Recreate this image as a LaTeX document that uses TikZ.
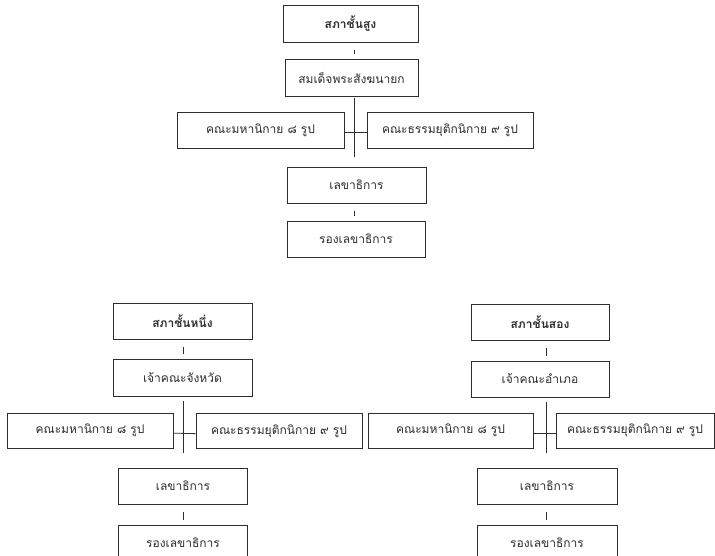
\documentclass[tikz,border=0pt]{standalone}
\usepackage{fontspec}
\newfontfamily\thaifont[Script=Thai]{Loma}
\usetikzlibrary{positioning, calc}
\tikzset{>=stealth}
\definecolor{inkgray}{RGB}{45,45,45}
\tikzset{
  unitbox/.style={draw=inkgray, line width=0.7pt, inner sep=0pt, text=inkgray,
    minimum height=27pt, font=\thaifont\small},
  councilbox/.style={unitbox, font=\thaifont\small\bfseries},
  gapline/.style={draw=inkgray, line width=0.6pt, shorten <=5.5pt, shorten >=3.5pt},
  spineline/.style={draw=inkgray, line width=0.6pt}
}

\begin{document}
\begin{tikzpicture}[x=0.75pt, y=-0.75pt]

	\fill [white] (0,0) rectangle (715,556);
	\clip (0,0) rectangle (715,556);

	% supreme council
	\node [councilbox, minimum width=101.25pt, minimum height=27.75pt] (top) at (350.5,23.5) {สภาชั้นสูง};
	\node [unitbox, minimum width=99.75pt, minimum height=27.75pt] (pres) at (351.5,77.5) {สมเด็จพระสังฆนายก};
	\node [unitbox, minimum width=125.25pt] (maha1) at (260.5,130) {คณะมหานิกาย ๘ รูป};
	\node [unitbox, minimum width=124.5pt] (tham1) at (450,130) {คณะธรรมยุติกนิกาย ๙ รูป};
	\node [unitbox, minimum width=104.25pt] (sec1) at (356.5,185) {เลขาธิการ};
	\node [unitbox, minimum width=103.5pt] (dep1) at (356,239) {รองเลขาธิการ};
	\coordinate (axis1) at (354,0);

	\draw [gapline] (top.south -| axis1) -- (pres.north -| axis1);
	\draw [spineline, shorten <=1.5pt, shorten >=7.5pt] (pres.south -| axis1) -- (sec1.north -| axis1);
	\draw [spineline] ([yshift=-2pt]maha1.east) -- ([yshift=-2pt]tham1.west);
	\draw [gapline] (sec1.south -| axis1) -- (dep1.north -| axis1);

	% first-level council
	\node [councilbox, minimum width=104.25pt] (prov) at (182.5,321) {สภาชั้นหนึ่ง};
	\node [unitbox, minimum width=104.25pt, minimum height=27.75pt] (provhead) at (182.5,377.5) {เจ้าคณะจังหวัด};
	\node [unitbox, minimum width=124.5pt, minimum height=26.25pt] (maha2) at (90,430.5) {คณะมหานิกาย ๘ รูป};
	\node [unitbox, minimum width=124.5pt, minimum height=26.25pt] (tham2) at (279,431) {คณะธรรมยุติกนิกาย ๙ รูป};
	\node [unitbox, minimum width=96.75pt] (sec2) at (183,486) {เลขาธิการ};
	\node [unitbox, minimum width=96.75pt] (dep2) at (183,543) {รองเลขาธิการ};
	\coordinate (axis2) at (183.5,0);

	\draw [gapline] (prov.south -| axis2) -- (provhead.north -| axis2);
	\draw [spineline, shorten <=3.75pt, shorten >=11.25pt] (provhead.south -| axis2) -- (sec2.north -| axis2);
	\draw [spineline] ([yshift=-2pt]maha2.east) -- ([yshift=-2pt]tham2.west);
	\draw [gapline] (sec2.south -| axis2) -- (dep2.north -| axis2);

	% second-level council
	\node [councilbox, minimum width=103.5pt] (dist) at (540,322) {สภาชั้นสอง};
	\node [unitbox, minimum width=103.5pt] (disthead) at (540,379) {เจ้าคณะอำเภอ};
	\node [unitbox, minimum width=123.75pt, minimum height=26.25pt] (maha3) at (450.5,430.5) {คณะมหานิกาย ๘ รูป};
	\node [unitbox, minimum width=118.5pt, minimum height=26.25pt] (tham3) at (635,430.5) {คณะธรรมยุติกนิกาย ๙ รูป};
	\node [unitbox, minimum width=105pt] (sec3) at (547,486) {เลขาธิการ};
	\node [unitbox, minimum width=105pt] (dep3) at (547,543) {รองเลขาธิการ};
	\coordinate (axis3) at (546,0);

	\draw [gapline] (dist.south -| axis3) -- (disthead.north -| axis3);
	\draw [spineline, shorten <=3.75pt, shorten >=11.25pt] (disthead.south -| axis3) -- (sec3.north -| axis3);
	\draw [spineline] ([yshift=-2pt]maha3.east) -- ([yshift=-2pt]tham3.west);
	\draw [gapline] (sec3.south -| axis3) -- (dep3.north -| axis3);

\end{tikzpicture}
\end{document}
